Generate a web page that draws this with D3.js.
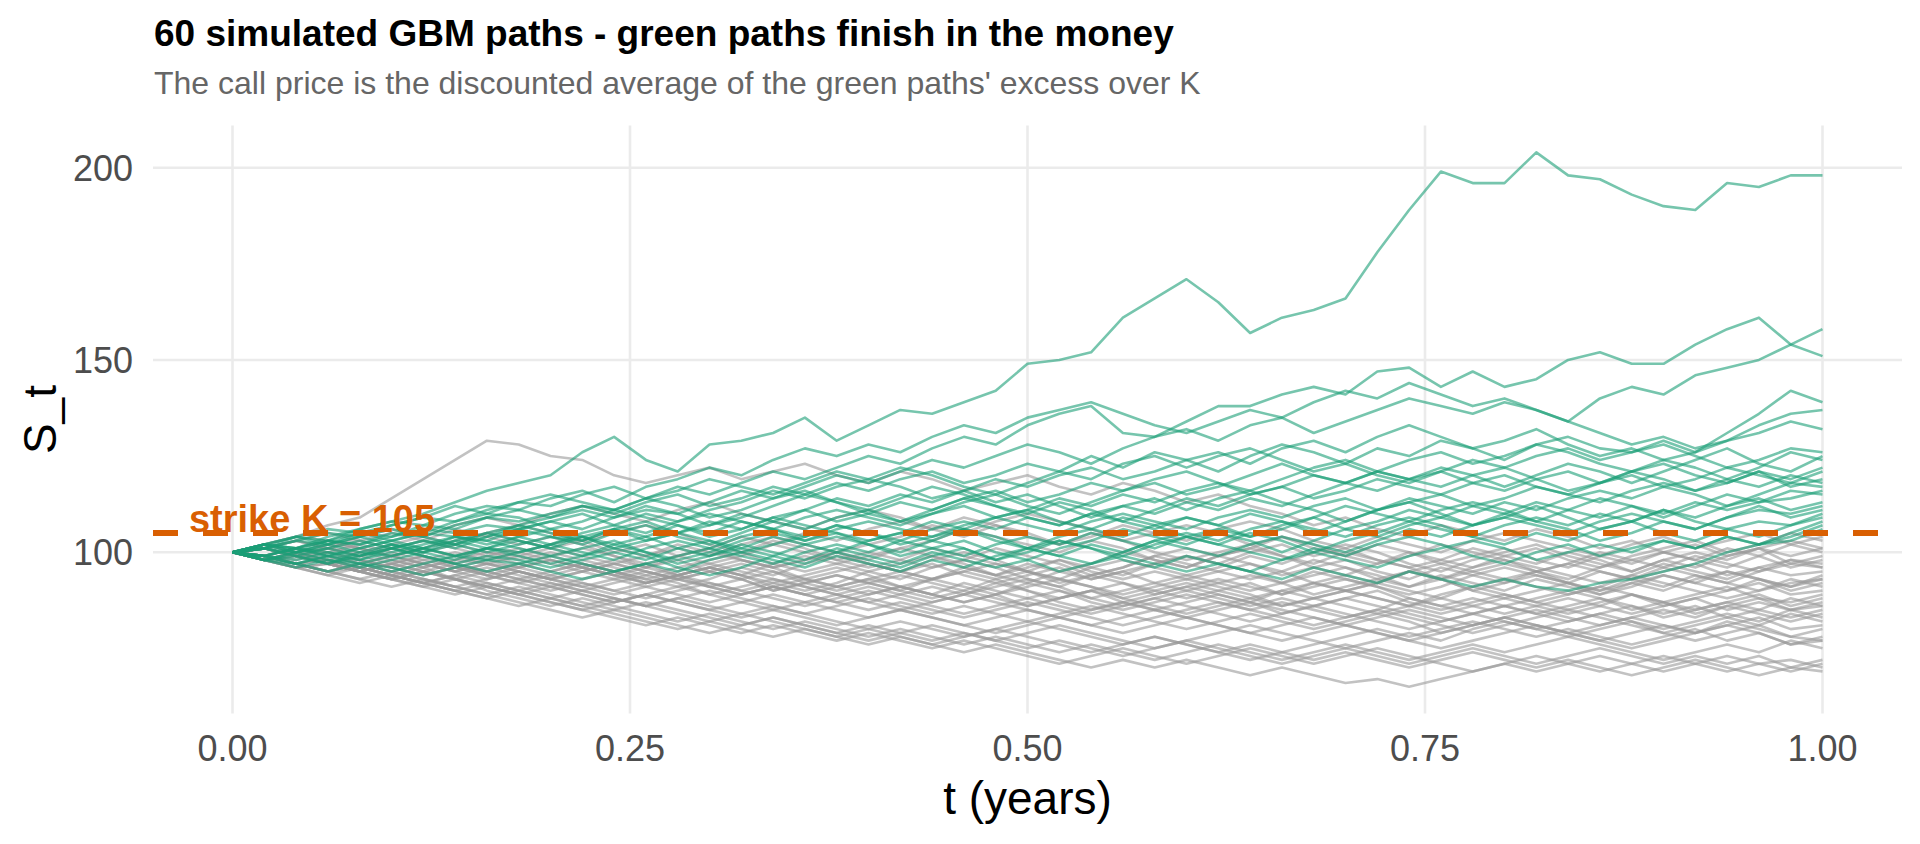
<!DOCTYPE html>
<html>
<head>
<meta charset="utf-8">
<script src="https://cdn.jsdelivr.net/npm/d3@7"></script>
<style>
body { margin: 0; background: #fff; }
text { font-family: "Liberation Sans", Arial, sans-serif; }
</style>
</head>
<body>
<svg id="chart" width="1920" height="844"></svg>
<script>
// time grid the paths were read at (every 0.02 years)
const times = d3.range(51).map(i => i / 50)
const strike = 105
const xTicks = [0, 0.25, 0.5, 0.75, 1]
const yTicks = [100, 150, 200]

// paths finishing above the strike
const greenPaths = [
  [100,102,101,104,106,108,110,113,116,118,120,126,130,124,121,128,129,131,135,129,133,137,136,139,142,149,150,152,161,166,171,165,157,161,163,166,178,189,199,196,196,204,198,197,193,190,189,196,195,198,198],
  [100,99,101,103,102,105,104,107,109,108,110,112,111,114,117,115,118,121,119,122,125,123,127,130,128,133,136,138,131,130,134,138,138,141,143,141,147,148,143,147,143,145,150,152,149,149,154,158,161,154,151],
  [100,98,99,97,100,102,101,104,103,106,108,106,109,111,110,113,116,114,117,120,118,121,124,122,125,128,126,123,127,130,132,129,133,135,131,134,137,140,138,136,139,137,134,140,143,141,146,148,150,154,158],
  [100,102,100,103,105,104,107,106,109,111,109,112,110,113,115,112,114,117,115,118,116,119,121,118,120,123,121,125,122,126,124,121,125,128,126,123,127,125,129,127,124,128,130,127,126,129,126,131,136,142,139],
  [100,101,104,103,106,108,107,110,112,111,114,116,113,117,119,122,120,124,127,125,128,126,130,133,131,135,137,139,136,133,131,134,137,135,139,142,140,144,141,138,140,137,134,131,128,130,127,129,133,136,137],
  [100,99,97,99,98,101,103,102,100,102,104,103,106,108,105,107,110,108,111,114,112,115,113,116,119,117,120,122,119,121,124,126,123,127,129,126,130,133,130,127,129,132,128,125,127,124,126,129,131,134,132],
  [100,102,104,102,105,107,109,108,111,113,112,115,117,114,116,119,117,115,118,121,119,122,120,117,115,118,121,119,123,125,122,125,127,124,121,123,120,118,121,124,122,125,127,124,126,128,125,122,124,127,126],
  [100,98,100,101,99,102,100,98,101,103,101,104,106,103,105,108,106,109,111,108,110,113,111,114,116,113,115,118,116,119,121,118,116,119,122,124,121,119,122,120,117,120,123,121,118,121,124,127,123,121,125],
  [100,101,99,97,99,101,103,101,104,106,104,102,105,107,104,102,105,108,106,109,111,108,110,113,115,112,110,113,116,118,115,117,120,123,120,118,121,124,126,123,125,128,126,123,121,124,122,119,122,126,124],
  [100,102,101,103,102,104,106,105,107,106,108,110,107,105,108,110,108,106,109,111,109,107,110,112,109,111,114,112,115,113,116,118,115,117,120,118,121,119,117,120,122,119,116,118,121,123,120,118,121,119,122],
  [100,98,96,98,97,95,97,99,98,100,102,100,98,101,103,101,104,106,104,107,105,103,106,108,106,109,107,110,112,110,113,111,114,112,115,118,116,119,121,118,116,119,121,118,120,117,119,122,120,118,121],
  [100,101,103,105,104,107,109,112,110,113,115,113,111,114,112,109,111,114,116,113,111,114,117,115,112,110,113,111,108,111,114,112,115,117,114,116,119,117,115,118,120,117,115,118,121,119,116,118,121,117,119],
  [100,99,101,100,98,100,102,104,103,101,99,101,103,100,98,100,103,105,103,106,108,106,104,107,109,107,105,108,110,108,106,109,111,109,112,114,111,113,115,112,114,117,115,113,116,118,116,119,117,120,118],
  [100,102,104,106,105,103,105,108,110,109,106,108,111,109,107,104,106,109,107,105,103,105,108,106,109,111,108,106,104,107,109,107,110,108,105,108,111,114,112,110,113,111,114,116,114,117,115,112,115,118,117],
  [100,98,97,95,97,96,94,96,98,97,99,97,95,97,99,101,99,97,100,102,100,103,101,99,102,104,102,105,103,101,104,106,104,107,109,106,108,111,109,112,110,113,111,114,112,109,112,115,113,114,116],
  [100,101,100,102,100,99,101,103,101,100,102,104,102,100,97,99,101,99,102,104,102,99,101,103,100,98,101,103,106,104,102,105,103,100,103,106,104,107,109,107,110,108,111,109,112,110,113,111,113,116,115],
  [100,102,101,99,101,103,105,104,102,104,106,104,101,103,105,103,100,102,104,107,105,102,104,106,103,101,99,102,100,103,105,103,106,108,106,104,107,109,107,104,107,109,107,110,108,111,109,112,114,111,113],
  [100,99,98,100,99,101,99,97,95,97,95,93,95,97,95,98,100,98,96,99,97,95,98,96,99,101,99,97,100,103,101,99,102,104,102,100,103,106,104,107,109,107,105,108,110,108,106,109,111,110,112],
  [100,101,103,102,104,106,104,102,104,107,105,103,106,104,101,99,102,100,98,101,99,97,100,98,96,98,95,97,99,97,95,97,95,93,96,94,92,95,93,91,93,91,90,92,93,95,97,100,102,105,108],
  [100,98,100,102,104,102,100,102,105,107,109,111,109,112,110,107,109,112,115,113,110,108,111,114,112,109,107,110,108,106,109,107,104,106,109,112,110,108,111,113,111,108,106,103,105,108,106,109,112,109,111],
  [100,99,101,99,97,99,101,99,101,104,102,105,107,110,108,111,113,116,114,117,119,117,114,116,113,115,112,109,112,114,111,114,116,113,111,108,111,113,110,107,109,112,109,106,108,111,108,106,108,107,110],
  [100,101,99,101,103,101,99,97,99,98,96,98,100,98,101,103,101,104,102,100,103,105,103,106,104,101,104,106,109,107,104,102,105,103,100,103,105,108,106,104,102,105,103,106,108,105,103,106,104,107,109],
  [100,102,100,98,96,98,100,103,105,103,101,99,102,104,107,105,108,106,103,105,102,100,103,101,98,101,103,101,99,102,104,102,100,98,101,99,102,104,102,99,97,100,102,99,101,103,101,104,102,104,107],
  [100,99,97,99,101,103,101,99,101,99,97,99,101,99,96,94,96,99,97,100,98,96,99,101,98,100,103,101,98,96,99,97,95,98,100,98,96,99,101,103,101,98,100,102,100,103,101,104,102,103,106]
]

// paths finishing at or below the strike
const greyPaths = [
  [100,102,104,107,109,114,119,124,129,128,125,124,120,118,120,122,119,121,123,120,118,121,119,116,118,120,117,115,118,116,113,115,112,110,107,109,106,104,107,105,103,106,104,101,103,100,102,99,101,103,101],
  [100,101,103,101,104,106,104,107,109,107,110,112,110,108,111,113,110,108,106,109,111,109,106,104,107,105,102,104,107,105,103,106,108,106,103,101,104,102,100,103,105,103,101,99,102,104,101,103,105,102,104],
  [100,98,99,101,100,98,96,98,100,99,97,95,97,99,101,99,102,104,102,100,98,101,103,106,104,102,100,103,101,98,96,99,101,104,102,99,97,100,98,96,99,101,98,96,99,101,103,100,102,105,103],
  [100,102,100,98,100,102,104,102,105,107,105,103,100,102,99,97,99,102,100,98,96,98,101,99,97,95,98,96,94,97,99,97,100,102,99,101,98,96,98,101,99,97,100,98,95,98,100,98,101,99,101],
  [100,99,97,95,97,99,97,99,101,100,102,104,101,99,102,100,98,96,98,100,102,104,107,105,108,110,108,106,103,105,107,105,102,104,101,99,102,100,97,99,101,98,96,99,97,100,98,101,99,102,100],
  [100,101,99,101,103,105,103,101,99,101,99,97,95,97,94,96,98,96,93,95,97,95,98,100,98,95,93,96,98,96,94,96,99,97,100,102,100,97,95,98,100,102,99,97,95,98,96,99,101,97,99],
  [100,98,100,102,101,99,97,95,97,96,94,96,98,96,99,101,104,102,105,103,106,108,106,109,107,104,102,105,103,100,98,100,102,99,97,100,98,96,93,95,97,95,93,96,98,100,98,96,99,96,98],
  [100,99,101,100,98,96,94,96,95,93,95,97,95,93,91,93,96,94,97,99,97,95,93,96,94,92,95,97,100,98,96,99,101,99,96,94,97,99,102,100,98,95,97,100,98,96,99,97,95,98,97],
  [100,102,104,103,101,99,101,103,105,103,101,103,105,107,105,102,100,103,101,98,100,98,96,98,101,99,97,94,96,99,101,99,97,94,96,98,95,93,96,94,92,95,97,95,93,96,94,92,95,97,96],
  [100,99,97,98,96,94,96,98,97,95,93,95,93,91,93,95,93,90,92,94,92,90,93,95,97,95,92,94,92,89,91,93,91,89,92,94,92,95,97,95,93,95,92,90,93,95,97,94,96,98,96],
  [100,101,99,97,99,101,100,102,100,98,100,98,96,94,96,98,100,97,95,97,99,101,99,96,94,97,95,93,95,97,99,97,95,92,94,96,94,91,93,96,98,96,94,92,94,97,95,93,96,94,95],
  [100,98,96,97,95,97,99,97,94,92,94,92,90,92,94,96,94,92,90,92,95,93,96,98,96,93,91,94,96,99,97,95,93,95,98,96,93,91,94,92,90,93,91,89,92,94,92,95,93,91,94],
  [100,101,103,105,103,101,103,106,104,102,104,102,99,97,99,101,98,96,98,100,97,95,97,94,92,94,96,93,95,92,90,92,94,92,89,91,93,95,93,90,88,90,92,95,93,91,94,92,90,92,93],
  [100,99,98,100,98,96,98,96,94,96,98,96,94,92,94,91,89,91,93,91,89,91,89,87,89,92,90,88,90,92,94,92,90,92,95,93,91,89,91,94,96,94,92,90,92,90,93,95,93,91,93],
  [100,102,100,101,99,97,99,97,95,97,99,101,99,96,94,96,94,97,99,97,95,97,99,97,94,96,98,95,93,95,93,95,97,95,92,90,92,95,93,90,92,94,92,89,91,94,92,90,93,90,92],
  [100,99,101,103,101,99,101,99,97,99,101,99,97,95,93,95,97,95,92,90,92,94,92,90,93,95,93,91,89,91,93,91,89,86,88,90,92,90,88,91,93,91,89,91,94,92,90,88,90,93,91],
  [100,98,100,98,96,98,96,93,95,93,91,93,95,93,95,97,95,93,91,89,91,89,87,89,91,93,91,88,86,88,90,88,86,88,86,88,90,87,85,87,89,87,89,91,89,86,88,90,92,89,90],
  [100,101,99,97,95,97,95,97,99,97,95,97,95,92,94,92,90,92,94,96,94,91,93,95,93,90,88,90,92,90,88,90,92,89,91,93,91,88,86,88,86,88,90,88,85,87,89,91,88,87,89],
  [100,99,97,95,96,94,92,94,96,94,92,90,92,94,92,89,91,93,91,89,87,89,91,89,92,90,87,85,87,89,91,89,87,90,92,90,88,86,84,86,88,86,84,86,89,87,85,87,89,86,88],
  [100,101,103,101,99,101,99,96,98,100,98,96,94,96,98,95,93,95,93,91,93,95,93,91,89,91,93,91,88,90,92,90,88,86,88,90,88,86,89,91,89,87,85,87,89,87,84,86,88,85,87],
  [100,98,97,95,97,95,93,91,93,95,93,91,89,91,89,87,89,91,89,87,89,91,89,92,90,88,90,87,85,87,89,87,85,87,85,83,85,88,86,84,86,84,86,88,86,84,86,83,85,88,86],
  [100,101,99,100,102,100,98,100,98,96,98,96,94,92,94,96,94,91,89,91,93,91,89,87,89,86,88,90,88,86,84,86,88,90,88,86,84,86,88,86,84,86,88,86,84,86,88,85,87,85,86],
  [100,99,97,99,97,95,97,95,93,95,93,95,97,95,93,91,93,90,92,94,92,90,88,90,88,86,88,90,87,85,87,89,87,84,86,88,86,84,82,84,86,84,82,84,86,83,85,87,85,83,85],
  [100,98,100,97,95,93,95,93,91,89,91,89,87,89,91,89,87,85,87,89,87,85,87,89,87,85,83,85,87,85,83,85,87,85,83,81,83,85,83,81,83,85,83,81,83,85,83,86,84,82,84],
  [100,101,99,97,98,96,94,96,94,92,90,92,90,88,90,92,90,88,86,88,90,88,86,84,86,88,86,84,86,88,86,84,82,84,86,84,82,80,82,84,82,80,82,84,82,80,82,84,82,85,83],
  [100,99,101,99,97,99,97,95,97,95,93,91,93,95,93,91,89,91,89,87,85,87,85,83,85,87,85,83,81,83,85,87,85,83,81,83,85,83,81,79,81,83,85,83,81,79,81,83,81,84,82],
  [100,98,96,94,96,94,92,90,92,90,88,90,88,86,88,90,88,86,84,86,88,86,84,86,84,82,84,86,84,82,80,82,84,82,80,82,84,82,79,81,83,81,79,81,83,81,79,81,83,80,81],
  [100,101,99,97,95,97,95,93,91,93,91,89,87,89,87,85,87,89,87,85,83,85,83,81,83,85,83,81,83,85,83,81,79,81,83,81,79,77,79,81,83,81,79,77,79,81,79,82,80,78,80],
  [100,98,99,97,95,93,91,93,91,89,87,85,87,89,87,85,83,85,83,81,83,85,83,81,79,81,83,81,79,81,83,81,79,77,79,81,79,77,75,77,79,81,79,77,75,77,79,81,79,76,78],
  [100,99,97,95,93,91,93,91,89,87,85,83,85,83,81,79,81,83,81,79,77,79,81,79,77,79,81,79,77,75,77,79,81,79,77,75,77,79,77,80,82,80,78,80,82,79,77,79,81,78,77],
  [100,101,99,97,96,94,92,90,88,90,88,86,88,86,84,82,84,82,80,78,80,78,76,78,80,78,76,74,76,78,76,74,72,74,76,78,80,78,80,82,80,78,80,78,76,78,80,77,79,76,77],
  [100,98,96,97,95,93,95,93,90,88,86,88,86,84,82,84,82,80,82,80,78,80,78,76,78,76,74,76,74,72,74,76,74,72,74,76,74,72,74,76,74,76,78,76,74,72,74,76,74,77,75],
  [100,99,97,95,93,95,93,91,89,91,89,87,85,87,85,83,81,83,81,79,81,79,77,79,77,75,77,75,73,75,77,75,73,71,73,75,73,71,73,75,73,71,73,75,73,71,73,71,73,70,72],
  [100,98,96,94,92,94,92,90,88,86,88,86,84,82,80,82,80,78,80,78,76,78,76,74,76,74,72,70,72,70,72,70,68,70,68,66,67,65,67,69,71,69,71,73,71,69,71,73,71,69,71],
  [100,101,99,97,95,93,91,89,91,89,87,85,83,81,83,81,79,81,79,77,79,77,75,77,75,73,71,73,75,73,71,73,75,73,71,73,75,73,71,69,71,73,71,69,71,73,71,69,71,72,70],
  [100,99,97,98,96,94,92,94,92,90,92,90,88,86,88,86,84,86,84,82,80,82,80,78,80,82,80,78,76,78,76,74,76,74,72,74,72,70,72,74,72,70,72,70,68,70,72,70,68,70,69]
]

var svg = d3.select("#chart"),
    width = +svg.attr("width"),
    height = +svg.attr("height"),
    margin = {top: 125.6, right: 18, bottom: 130.5, left: 153}

svg.append("rect").attr("width", width).attr("height", height).attr("fill", "#fff")

var allValues = greenPaths.concat(greyPaths).flat()
var yExt = d3.extent(allValues)
var pad = (yExt[1] - yExt[0]) * 0.05

var x = d3.scaleLinear().domain([-0.05, 1.05]).range([margin.left, width - margin.right])
var y = d3.scaleLinear().domain([yExt[0] - pad, yExt[1] + pad]).range([height - margin.bottom, margin.top])

// grid
var grid = svg.append("g").attr("class", "grid")
grid.selectAll(".vgrid").data(xTicks).enter().append("line")
    .attr("x1", d => x(d)).attr("x2", d => x(d))
    .attr("y1", margin.top).attr("y2", height - margin.bottom)
    .attr("stroke", "#ebebeb").attr("stroke-width", 2.6)
grid.selectAll(".hgrid").data(yTicks).enter().append("line")
    .attr("y1", d => y(d)).attr("y2", d => y(d))
    .attr("x1", margin.left).attr("x2", width - margin.right)
    .attr("stroke", "#ebebeb").attr("stroke-width", 2.6)

var line = d3.line()
    .x(function(d, i) { return x(times[i]); })
    .y(function(d) { return y(d); })

svg.append("g").selectAll("path").data(greyPaths).enter().append("path")
    .attr("d", line)
    .attr("fill", "none")
    .attr("stroke", "#999999")
    .attr("stroke-opacity", 0.6)
    .attr("stroke-width", 2.6)
    .attr("stroke-linejoin", "round")

svg.append("g").selectAll("path").data(greenPaths).enter().append("path")
    .attr("d", line)
    .attr("fill", "none")
    .attr("stroke", "#1b9e77")
    .attr("stroke-opacity", 0.6)
    .attr("stroke-width", 2.6)
    .attr("stroke-linejoin", "round")

// strike line + label
svg.append("line")
    .attr("x1", margin.left).attr("x2", width - margin.right)
    .attr("y1", y(strike)).attr("y2", y(strike))
    .attr("stroke", "#d95f02").attr("stroke-width", 6)
    .attr("stroke-dasharray", "25 25")

svg.append("text")
    .attr("x", x(0.05)).attr("y", y(strike) - 1)
    .attr("text-anchor", "middle")
    .attr("fill", "#d95f02")
    .style("font-size", "38px").style("font-weight", "bold")
    .text("strike K = " + strike)

// tick labels
svg.append("g").selectAll("text").data(xTicks).enter().append("text")
    .attr("x", d => x(d)).attr("y", 761)
    .attr("text-anchor", "middle")
    .attr("fill", "#4d4d4d")
    .style("font-size", "36px")
    .text(d => d3.format(".2f")(d))

svg.append("g").selectAll("text").data(yTicks).enter().append("text")
    .attr("x", 133).attr("y", d => y(d))
    .attr("dy", "0.36em")
    .attr("text-anchor", "end")
    .attr("fill", "#4d4d4d")
    .style("font-size", "36px")
    .text(d => d)

// axis titles
svg.append("text")
    .attr("x", x(0.5)).attr("y", 814)
    .attr("text-anchor", "middle")
    .attr("fill", "#000")
    .style("font-size", "46px")
    .text("t (years)")

svg.append("text")
    .attr("transform", "translate(56," + (margin.top + height - margin.bottom) / 2 + ") rotate(-90)")
    .attr("text-anchor", "middle")
    .attr("fill", "#000")
    .style("font-size", "46px")
    .text("S_t")

// titles
svg.append("text")
    .attr("x", 154).attr("y", 46)
    .attr("fill", "#000")
    .style("font-size", "37px").style("font-weight", "bold")
    .text("60 simulated GBM paths - green paths finish in the money")

svg.append("text")
    .attr("x", 154).attr("y", 94)
    .attr("fill", "#666666")
    .style("font-size", "32px")
    .text("The call price is the discounted average of the green paths' excess over K")
</script>
</body>
</html>
